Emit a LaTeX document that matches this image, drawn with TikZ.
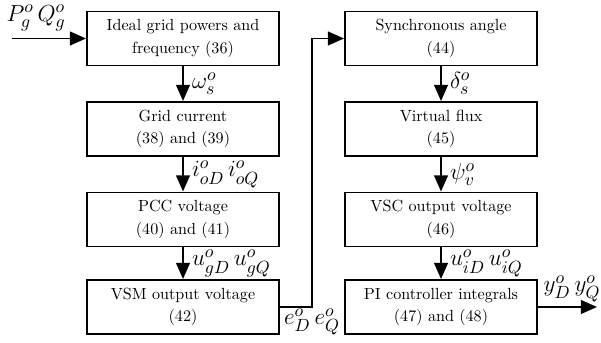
\documentclass[tikz,border=0pt]{standalone}
\usepackage{amsmath}
\usetikzlibrary{arrows.meta,positioning}

\begin{document}
\begin{tikzpicture}[x=0.62pt, y=-0.62pt, font=\normalsize]
\tikzset{block/.style={draw, line width=1.2pt, minimum width=119pt, minimum height=33.5pt, align=center, inner sep=0pt},
  flow/.style={line width=1.2pt, -{Triangle[length=10pt,width=8.5pt]}},
  sig/.style={font=\fontsize{15.5}{18}\selectfont, inner sep=1pt}}
\useasboundingbox (0,0) rectangle (601,343);
% left column
\node[block] (grid) at (183,38.5) {Ideal grid powers and\\[2pt] frequency (36)};
\node[block] (cur) at (183,129) {Grid current\\[2pt] (38) and (39)};
\node[block] (pcc) at (183,219.5) {PCC voltage\\[2pt] (40) and (41)};
\node[block] (vsm) at (183,307) {VSM output voltage\\[2pt] (42)};
% right column
\node[block] (ang) at (441,38.5) {Synchronous angle\\[2pt] (44)};
\node[block] (flux) at (441,129) {Virtual flux\\[2pt] (45)};
\node[block] (vsc) at (441,219.5) {VSC output voltage\\[2pt] (46)};
\node[block] (pi) at (441,307) {PI controller integrals\\[2pt] (47) and (48)};

\coordinate (in) at (12,38.5);
\coordinate (out) at (597,307);
\coordinate (fb) at (312,0);

\draw[flow] (in) -- (grid);
\node[sig] (pq) at (36,18) {$P_g^o\,Q_g^o$};
\draw[flow] (grid) -- (cur) node[sig, midway, right=4pt] (ws) {$\omega_s^o$};
\draw[flow] (cur) -- (pcc) node[sig, midway, right=4pt] (io) {$i_{oD}^o\,i_{oQ}^o$};
\draw[flow] (pcc) -- (vsm) node[sig, midway, right=4pt] (ug) {$u_{gD}^o\,u_{gQ}^o$};
\draw[flow] (vsm.east) -| (fb |- ang.west) -- (ang.west);
\node[sig] (ed) at (312,322) {$e_D^o\,e_Q^o$};
\draw[flow] (ang) -- (flux) node[sig, midway, right=4pt] (ds) {$\delta_s^o$};
\draw[flow] (flux) -- (vsc) node[sig, midway, right=4pt] (pv) {$\psi_v^o$};
\draw[flow] (vsc) -- (pi) node[sig, midway, right=4pt] (ui) {$u_{iD}^o\,u_{iQ}^o$};
\draw[flow] (pi) -- (out);
\node[sig] (yd) at (572,289) {$y_D^o\,y_Q^o$};
\end{tikzpicture}
\end{document}
